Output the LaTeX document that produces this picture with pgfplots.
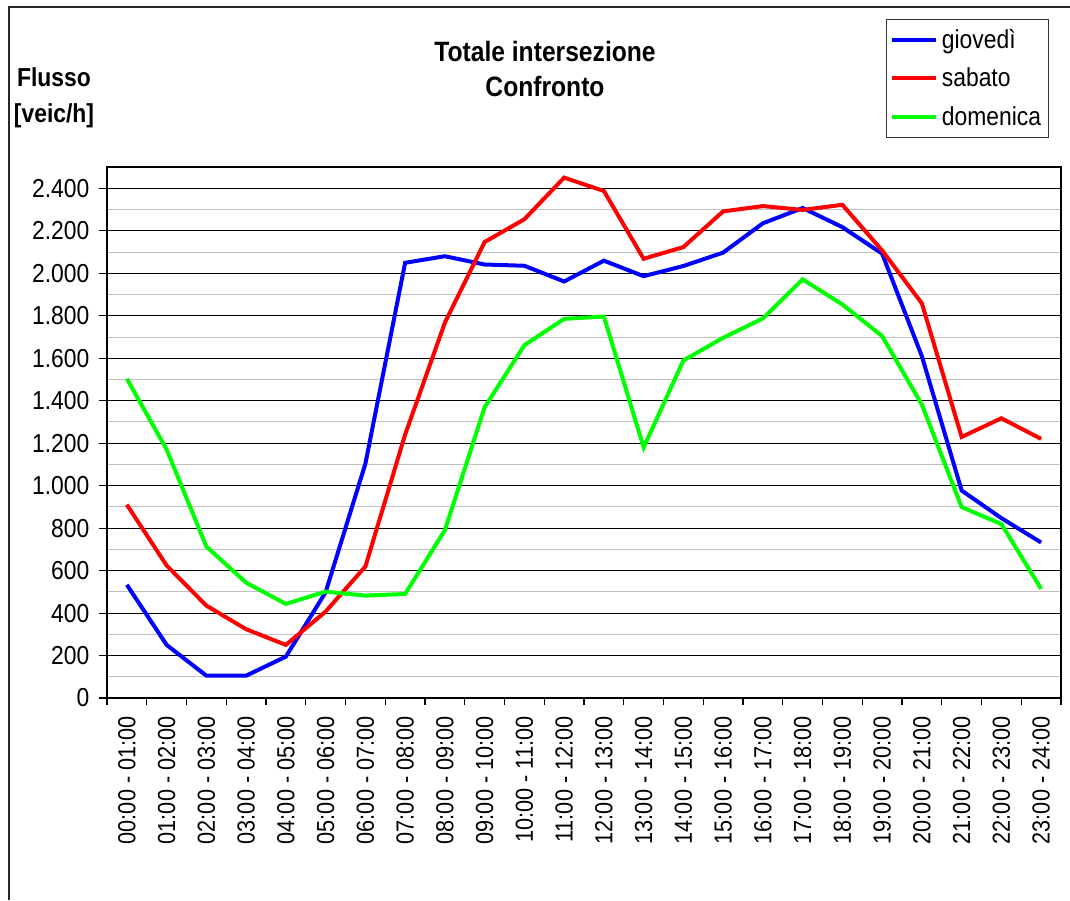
\documentclass[border=0pt]{standalone}
\usepackage{fontspec}
\setmainfont[FakeStretch=0.88]{Liberation Sans}
\usepackage{pgfplots}
\pgfplotsset{compat=1.18}

\definecolor{gio}{RGB}{0,0,255}
\definecolor{sab}{RGB}{255,0,0}
\definecolor{dom}{RGB}{0,255,0}
\definecolor{minorgray}{RGB}{192,192,192}

\begin{document}
\begin{tikzpicture}
% canvas and outer chart frame
\path[use as bounding box] (0pt,0pt) rectangle (802.5pt,-675pt);
\draw[line width=1.5pt, black!85] (6.75pt,-675pt) -- (6.75pt,-5.25pt) -- (802.5pt,-5.25pt);

% title and y-axis caption
\node[font=\fontsize{21}{26}\selectfont\bfseries, align=center] at (408.75pt,-51.5pt)
  {Totale intersezione\\Confronto};
\node[font=\fontsize{19.5}{27}\selectfont\bfseries, align=center] at (40.5pt,-73.5pt)
  {Flusso\\{[veic/h]}};

\begin{axis}[
  at={(80.25pt,-523.5pt)}, anchor=south west,
  scale only axis,
  width=715.5pt, height=398.25pt,
  xmin=0, xmax=24,
  ymin=0, ymax=2500,
  font=\fontsize{19.5}{23}\selectfont,
  axis line style={black, line width=0.8pt},
  tick align=outside,
  tick pos=left,
  tick style={black, line width=0.8pt},
  xtick={0.5,1.5,...,23.5},
  xticklabels={00:00 - 01:00,01:00 - 02:00,02:00 - 03:00,03:00 - 04:00,04:00 - 05:00,05:00 - 06:00,06:00 - 07:00,07:00 - 08:00,08:00 - 09:00,09:00 - 10:00,10:00 - 11:00,11:00 - 12:00,12:00 - 13:00,13:00 - 14:00,14:00 - 15:00,15:00 - 16:00,16:00 - 17:00,17:00 - 18:00,18:00 - 19:00,19:00 - 20:00,20:00 - 21:00,21:00 - 22:00,22:00 - 23:00,23:00 - 24:00},
  major x tick style={draw=none},
  minor xtick={0,1,...,24},
  minor tick length=5.25pt,
  minor y tick style={draw=none},
  xticklabel style={yshift=-7.5pt, rotate=90, anchor=east, inner sep=0pt, font=\fontsize{18.5}{22}\selectfont},
  ytick={0,200,...,2400},
  minor ytick={100,300,...,2300},
  major tick length=6pt,
  yticklabel style={inner sep=0pt, xshift=-7pt},
  ymajorgrids, yminorgrids,
  major grid style={black, line width=0.6pt},
  minor grid style={minorgray, line width=0.6pt},
  /pgf/number format/assume math mode=true,
  /pgf/number format/1000 sep={.},
  legend style={at={(0.8166,1.2787)}, anchor=north west, draw=black!80, line width=0.75pt,
    font=\fontsize{19.5}{23}\selectfont, inner xsep=2.5pt, inner ysep=5.5pt, row sep=9pt,
    nodes={inner xsep=3pt}},
  legend cell align=left,
  legend image code/.code={\draw[#1] (0pt,0pt) -- (33pt,0pt);},
  clip=false,
]
\addplot[gio, line width=3pt] coordinates {
  (0.5,533) (1.5,250) (2.5,105) (3.5,105) (4.5,195) (5.5,498) (6.5,1103) (7.5,2049)
  (8.5,2080) (9.5,2041) (10.5,2035) (11.5,1961) (12.5,2059) (13.5,1986) (14.5,2034)
  (15.5,2097) (16.5,2235) (17.5,2307) (18.5,2217) (19.5,2092) (20.5,1609) (21.5,977)
  (22.5,847) (23.5,732)};
\addlegendentry{giovedì}
\addplot[sab, line width=3pt] coordinates {
  (0.5,910) (1.5,624) (2.5,435) (3.5,324) (4.5,250) (5.5,407) (6.5,619) (7.5,1240)
  (8.5,1767) (9.5,2147) (10.5,2254) (11.5,2450) (12.5,2387) (13.5,2068) (14.5,2123)
  (15.5,2291) (16.5,2316) (17.5,2298) (18.5,2322) (19.5,2107) (20.5,1858) (21.5,1229)
  (22.5,1317) (23.5,1220)};
\addlegendentry{sabato}
\addplot[dom, line width=3pt] coordinates {
  (0.5,1503) (1.5,1170) (2.5,713) (3.5,543) (4.5,443) (5.5,501) (6.5,482) (7.5,490)
  (8.5,790) (9.5,1369) (10.5,1661) (11.5,1785) (12.5,1796) (13.5,1180) (14.5,1589)
  (15.5,1696) (16.5,1787) (17.5,1971) (18.5,1853) (19.5,1704) (20.5,1381) (21.5,899)
  (22.5,819) (23.5,514)};
\addlegendentry{domenica}
\end{axis}
\end{tikzpicture}
\end{document}
